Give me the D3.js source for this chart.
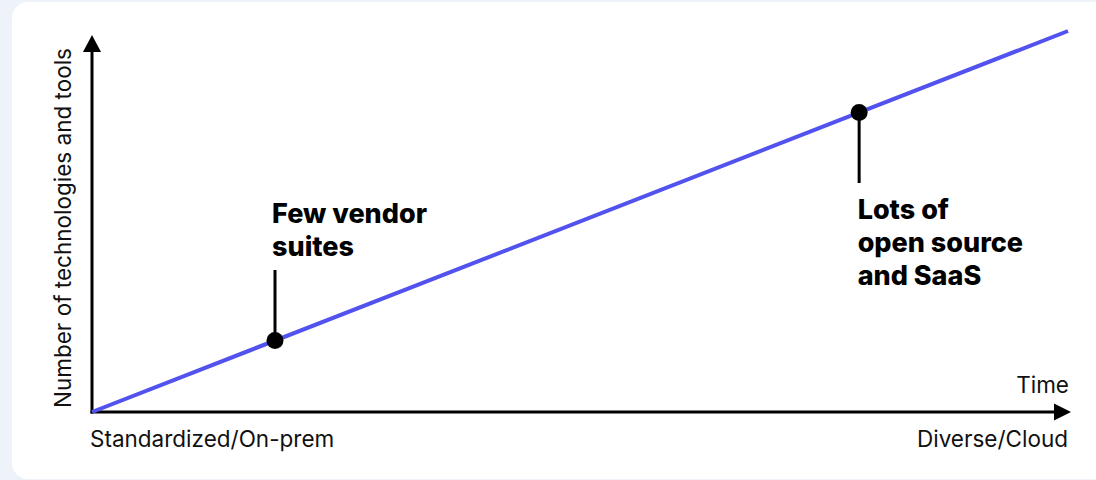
<!DOCTYPE html>
<html>
<head>
<meta charset="utf-8">
<script src="https://cdn.jsdelivr.net/npm/d3@7"></script>
<style>
  html, body { margin: 0; padding: 0; background: #eef3fa; }
  svg { display: block; }
</style>
</head>
<body>
<svg id="chart" width="1096" height="480"></svg>
<script>
// Trend line: share of time elapsed vs. number of technologies (relative scale)
const trend = [[0, 0], [100, 100]];
// Annotated stages along the trend
const stageX = [18.75, 78.6];
const stageLabels = [["Few vendor", "suites"], ["Lots of", "open source", "and SaaS"]];
const stagePlacement = ["above", "below"];
// Axis texts
const xStartLabel = "Standardized/On-prem";
const xEndLabel = "Diverse/Cloud";
const xTitle = "Time";
const yTitle = "Number of technologies and tools";

const svg = d3.select("#chart");
const W = 1096, H = 480;
const font = "Inter, 'Noto Sans', sans-serif";

// Card background
svg.append("rect").attr("x", 0).attr("y", 0).attr("width", W).attr("height", H).attr("fill", "#eef3fa");
svg.append("rect").attr("x", 12).attr("y", 2).attr("width", W + 20).attr("height", 477)
  .attr("rx", 16).attr("fill", "#ffffff");

const x = d3.scaleLinear().domain([0, 100]).range([92, 1068]);
const y = d3.scaleLinear().domain([0, 100]).range([412, 31]);

const ox = x(0), oy = y(0);

// Axes with arrowheads
const g = svg.append("g");
g.append("line").attr("x1", ox).attr("y1", oy + 1.5).attr("x2", ox).attr("y2", 50)
  .attr("stroke", "#000").attr("stroke-width", 3);
g.append("path").attr("d", `M${ox - 9},52 L${ox},35 L${ox + 9},52 Z`).attr("fill", "#000");
g.append("line").attr("x1", ox - 1.5).attr("y1", oy).attr("x2", 1056).attr("y2", oy)
  .attr("stroke", "#000").attr("stroke-width", 3);
g.append("path").attr("d", `M1054,${oy - 8.5} L1071,${oy} L1054,${oy + 8.5} Z`).attr("fill", "#000");

// Trend line
const line = d3.line().x(d => x(d[0])).y(d => y(d[1]));
svg.append("path").datum(trend).attr("d", line)
  .attr("fill", "none").attr("stroke", "#5252ef").attr("stroke-width", 4);

// Stage markers with leader lines and labels
stageX.forEach((v, i) => {
  const cx = x(v), cy = y(v);
  const above = stagePlacement[i] === "above";
  const leadEnd = above ? 270 : 183;
  svg.append("line").attr("x1", cx).attr("y1", cy).attr("x2", cx).attr("y2", leadEnd)
    .attr("stroke", "#000").attr("stroke-width", 3);
  svg.append("circle").attr("cx", cx).attr("cy", cy).attr("r", 8.5).attr("fill", "#000");
  const lines = stageLabels[i];
  const firstBaseline = above ? 223 : 219;
  const tx = cx - (above ? 3 : 1.5);
  const t = svg.append("text").attr("x", tx).attr("y", firstBaseline)
    .attr("font-family", font).attr("font-weight", 800).attr("font-size", 27).attr("fill", "#000");
  lines.forEach((s, j) => {
    t.append("tspan").attr("x", tx).attr("y", firstBaseline + j * 33).text(s);
  });
});

// Axis labels
const regular = { "font-family": font, "font-size": 22.5, "fill": "#111" };
function applyAttrs(sel, attrs) { Object.entries(attrs).forEach(([k, v]) => sel.attr(k, v)); return sel; }
applyAttrs(svg.append("text"), regular).attr("x", 90).attr("y", 447).text(xStartLabel);
applyAttrs(svg.append("text"), regular).attr("x", 1068).attr("y", 447).attr("text-anchor", "end").text(xEndLabel);
applyAttrs(svg.append("text"), regular).attr("x", 1069).attr("y", 393).attr("text-anchor", "end").text(xTitle);
applyAttrs(svg.append("text"), regular)
  .attr("transform", "translate(71,228) rotate(-90)").attr("text-anchor", "middle").text(yTitle);
</script>
</body>
</html>
